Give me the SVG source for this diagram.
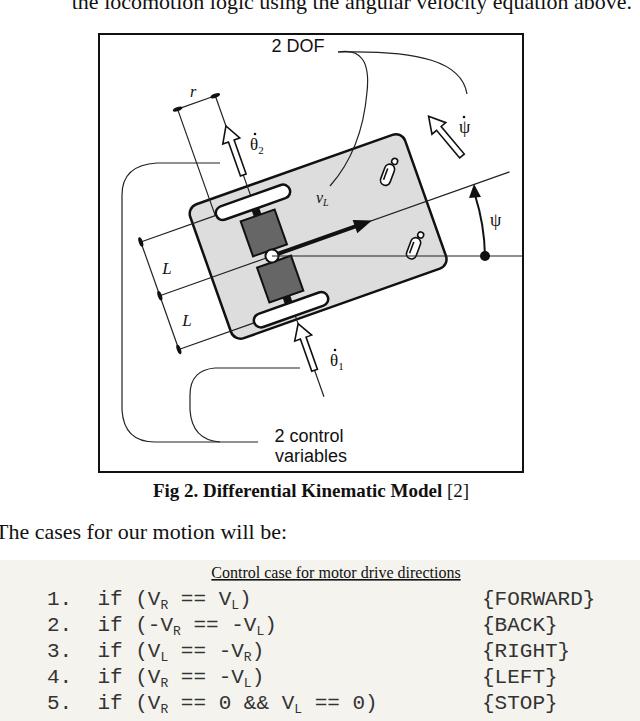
<svg xmlns="http://www.w3.org/2000/svg" width="640" height="721" viewBox="0 0 640 721">
<style>
.t{font-family:"Liberation Serif",serif;fill:#111}
.s{font-family:"Liberation Sans",Arial,sans-serif;fill:#111}
.m{font-family:"Liberation Mono",monospace;font-size:21px;fill:#333;white-space:pre}
.ln{fill:none;stroke:#222;stroke-width:1.2}
.ha{fill:#fff;stroke:#111;stroke-width:1.6}
</style>
<defs>
<path id="harrow" d="M-3,0 L-3,-36 L-9,-36 L0,-52 L9,-36 L3,-36 L3,0 Z"/>
</defs>
<rect width="640" height="721" fill="#fff"/>
<text class="t" x="632" y="9" font-size="22" text-anchor="end">the locomotion logic using the angular velocity equation above.</text>
<rect x="99" y="34" width="424" height="438" fill="#fff" stroke="#111" stroke-width="2"/>
<g id="robot" transform="translate(272,256) rotate(-19.5)">
  <rect x="-64" y="-74" width="228" height="142" rx="10" fill="#ddd" stroke="#111" stroke-width="2.5"/>
  <line class="ln" x1="0" y1="0" x2="252" y2="0"/>
  <line class="ln" x1="-119" y1="-57" x2="-40" y2="-57"/>
  <line class="ln" x1="-119" y1="0" x2="0" y2="0"/>
  <line class="ln" x1="-119" y1="57" x2="-40" y2="57"/>
  <line class="ln" x1="-119" y1="-57" x2="-119" y2="57"/>
  <line class="ln" x1="-40" y1="-170" x2="-40" y2="-57"/>
  <line class="ln" x1="0" y1="-170" x2="0" y2="-64"/>
  <line class="ln" x1="-40" y1="-170" x2="0" y2="-170"/>
  <line class="ln" x1="2" y1="64" x2="2" y2="150"/>
  <g fill="#111">
    <ellipse cx="-119" cy="-57" rx="2" ry="5"/><ellipse cx="-119" cy="0" rx="2" ry="5"/><ellipse cx="-119" cy="57" rx="2" ry="5"/>
    <ellipse cx="-40" cy="-170" rx="5" ry="2"/><ellipse cx="0" cy="-170" rx="5" ry="2"/>
  </g>
  <rect x="-4" y="-51" width="8" height="8" fill="#111"/>
  <rect x="-4" y="43" width="8" height="8" fill="#111"/>
  <rect x="-18" y="-43" width="36" height="37" fill="#666" stroke="#111" stroke-width="2"/>
  <rect x="-18" y="6" width="36" height="37" fill="#666" stroke="#111" stroke-width="2"/>
  <rect x="-39" y="-64" width="78" height="14" rx="7" fill="#fff" stroke="#111" stroke-width="2.5"/>
  <rect x="-39" y="50" width="78" height="14" rx="7" fill="#fff" stroke="#111" stroke-width="2.5"/>
  <line x1="0" y1="0" x2="90" y2="0" stroke="#111" stroke-width="4"/>
  <path d="M88,-7 L106,0 L88,7 Z" fill="#111"/>
  <circle cx="0" cy="0" r="6.5" fill="#fff" stroke="#111" stroke-width="2"/>
  <use href="#harrow" class="ha" transform="translate(0,-86)"/>
  <use href="#harrow" class="ha" transform="translate(2,122) scale(1,0.95)"/>
  <g fill="#fff" stroke="#111" stroke-width="1.6">
    <g transform="translate(136,-38) rotate(40)"><rect x="-5" y="-11" width="10" height="22" rx="5"/><path d="M-2,-6 L-2,6" fill="none"/><circle cx="2" cy="-15" r="3"/></g>
    <g transform="translate(136,40) rotate(40)"><rect x="-5" y="-11" width="10" height="22" rx="5"/><path d="M-2,-6 L-2,6" fill="none"/><circle cx="2" cy="-15" r="3"/></g>
  </g>
</g>
<line class="ln" x1="272" y1="256" x2="523" y2="256"/>
<circle cx="485" cy="256" r="5" fill="#111"/>
<path d="M485,256 A213,213 0 0 0 475,195" fill="none" stroke="#111" stroke-width="2"/>
<path d="M469,198 L474,184 L481,197 Z" fill="#111"/>
<use href="#harrow" class="ha" transform="translate(462,156) rotate(-40)"/>
<g id="labels">
<text class="s" x="298" y="52" font-size="18" text-anchor="middle">2 DOF</text>
<text class="s" x="309" y="442" font-size="18" text-anchor="middle">2 control</text>
<text class="s" x="311" y="462" font-size="18" text-anchor="middle">variables</text>
<text class="t" x="193" y="97" font-size="16" font-style="italic" text-anchor="middle">r</text>
<text class="t" x="167" y="274" font-size="17" font-style="italic" text-anchor="middle">L</text>
<text class="t" x="187" y="326" font-size="17" font-style="italic" text-anchor="middle">L</text>
<text class="t" x="316" y="203" font-size="16" font-style="italic">v<tspan font-size="10" dy="3">L</tspan></text>
<text class="t" x="250" y="150" font-size="17">θ<tspan font-size="11" dy="4">2</tspan></text>
<circle cx="255" cy="134" r="1.3" fill="#111"/>
<text class="t" x="330" y="366" font-size="17">θ<tspan font-size="11" dy="4">1</tspan></text>
<circle cx="335" cy="350" r="1.3" fill="#111"/>
<text class="t" x="459" y="133" font-size="18">ψ</text>
<circle cx="464" cy="117" r="1.3" fill="#111"/>
<text class="t" x="490" y="226" font-size="18">ψ</text>
</g>
<g id="connectors">
<path class="ln" d="M338,52 Q372,46 367,92 Q362,150 330,186"/>
<path class="ln" d="M338,52 C420,50 462,62 467,94"/>
<path class="ln" d="M220,163 L157,163 Q122,165 122,195 L122,410 Q124,442 155,442 L258,442"/>
<path class="ln" d="M300,368 L215,368 Q190,370 190,395 L190,410 Q192,440 220,442"/>
</g>
<text class="t" x="311" y="497" font-size="19" text-anchor="middle"><tspan font-weight="bold">Fig 2. Differential Kinematic Model</tspan> [2]</text>
<text class="t" x="-5" y="539" font-size="22">The cases for our motion will be:</text>
<rect x="0" y="560" width="640" height="161" fill="#f4f3ee"/>
<text class="t" x="336" y="578" font-size="16" text-anchor="middle" text-decoration="underline">Control case for motor drive directions</text>
<g class="m">
<text x="47" y="605">1.&#160; if (V<tspan font-size="13" dy="4">R</tspan><tspan dy="-4">&#160;== V</tspan><tspan font-size="13" dy="4">L</tspan><tspan dy="-4">)</tspan></text>
<text x="47" y="631">2.&#160; if (-V<tspan font-size="13" dy="4">R</tspan><tspan dy="-4">&#160;== -V</tspan><tspan font-size="13" dy="4">L</tspan><tspan dy="-4">)</tspan></text>
<text x="47" y="657">3.&#160; if (V<tspan font-size="13" dy="4">L</tspan><tspan dy="-4">&#160;== -V</tspan><tspan font-size="13" dy="4">R</tspan><tspan dy="-4">)</tspan></text>
<text x="47" y="683">4.&#160; if (V<tspan font-size="13" dy="4">R</tspan><tspan dy="-4">&#160;== -V</tspan><tspan font-size="13" dy="4">L</tspan><tspan dy="-4">)</tspan></text>
<text x="47" y="709">5.&#160; if (V<tspan font-size="13" dy="4">R</tspan><tspan dy="-4">&#160;== 0 &amp;&amp; V</tspan><tspan font-size="13" dy="4">L</tspan><tspan dy="-4">&#160;== 0)</tspan></text>
<text x="482" y="605">{FORWARD}</text>
<text x="482" y="631">{BACK}</text>
<text x="482" y="657">{RIGHT}</text>
<text x="482" y="683">{LEFT}</text>
<text x="482" y="709">{STOP}</text>
</g>
</svg>
